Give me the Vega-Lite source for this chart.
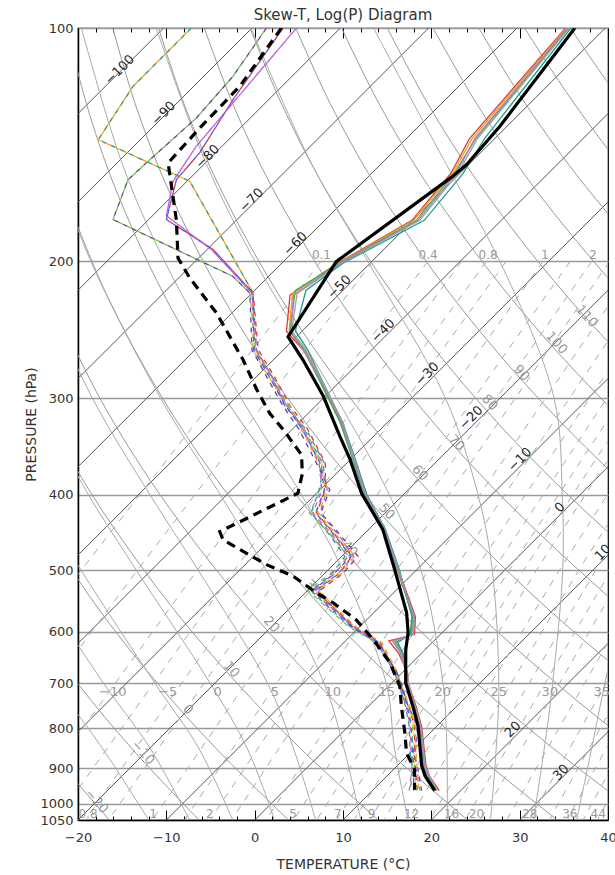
{
"$schema":"https://vega.github.io/schema/vega-lite/v6.json",
"width":530,"height":792,
"autosize":{"type":"none"},
"padding":{"left":78,"top":28,"right":7,"bottom":55},
"background":"white",
"title":{"text":"Skew-T, Log(P) Diagram","fontSize":15,"fontWeight":"normal","color":"#333","offset":-1,"anchor":"middle","frame":"group","font":"DejaVu Sans"},
"config":{"font":"DejaVu Sans","view":{"stroke":"#000","strokeWidth":1.2},"axis":{"labelFont":"DejaVu Sans","titleFont":"DejaVu Sans","labelColor":"#333","titleColor":"#333","titleFontWeight":"normal"}},
"resolve":{"axis":{"x":"independent","y":"independent"}},
"datasets":{
"iso":[{"t":-100,"x":-100,"p":1050},{"t":-100,"x":-10.3,"p":100},{"t":-90,"x":-90,"p":1050},{"t":-90,"x":-0.3,"p":100},{"t":-80,"x":-80,"p":1050},{"t":-80,"x":9.7,"p":100},{"t":-70,"x":-70,"p":1050},{"t":-70,"x":19.7,"p":100},{"t":-60,"x":-60,"p":1050},{"t":-60,"x":29.7,"p":100},{"t":-50,"x":-50,"p":1050},{"t":-50,"x":39.7,"p":100},{"t":-40,"x":-40,"p":1050},{"t":-40,"x":49.7,"p":100},{"t":-30,"x":-30,"p":1050},{"t":-30,"x":59.7,"p":100},{"t":-20,"x":-20,"p":1050},{"t":-20,"x":69.7,"p":100},{"t":-10,"x":-10,"p":1050},{"t":-10,"x":79.7,"p":100},{"t":0,"x":0,"p":1050},{"t":0,"x":89.7,"p":100},{"t":10,"x":10,"p":1050},{"t":10,"x":99.7,"p":100},{"t":20,"x":20,"p":1050},{"t":20,"x":109.7,"p":100},{"t":30,"x":30,"p":1050},{"t":30,"x":119.7,"p":100},{"t":40,"x":40,"p":1050},{"t":40,"x":129.7,"p":100}],
"dry":[{"th":-20,"x":-16.45,"p":1050},{"th":-20,"x":-23.42,"p":850},
{"th":-10,"x":-6.31,"p":1050},{"th":-10,"x":-13.88,"p":850},{"th":-10,"x":-20.03,"p":700},{"th":-10,"x":-26.65,"p":550},
{"th":0,"x":3.83,"p":1050},{"th":0,"x":-4.33,"p":850},{"th":0,"x":-11.0,"p":700},{"th":0,"x":-18.22,"p":550},{"th":0,"x":-26.1,"p":400},
{"th":10,"x":13.97,"p":1050},{"th":10,"x":5.22,"p":850},{"th":10,"x":-1.97,"p":700},{"th":10,"x":-9.79,"p":550},{"th":10,"x":-18.4,"p":400},{"th":10,"x":-24.62,"p":300},
{"th":20,"x":24.11,"p":1050},{"th":20,"x":14.76,"p":850},{"th":20,"x":7.06,"p":700},{"th":20,"x":-1.36,"p":550},{"th":20,"x":-10.7,"p":400},{"th":20,"x":-17.53,"p":300},{"th":20,"x":-23.31,"p":220},
{"th":30,"x":34.25,"p":1050},{"th":30,"x":24.31,"p":850},{"th":30,"x":16.1,"p":700},{"th":30,"x":7.07,"p":550},{"th":30,"x":-3.0,"p":400},{"th":30,"x":-10.44,"p":300},{"th":30,"x":-16.82,"p":220},{"th":30,"x":-21.79,"p":160},
{"th":40,"x":44.39,"p":1050},{"th":40,"x":33.85,"p":850},{"th":40,"x":25.13,"p":700},{"th":40,"x":15.5,"p":550},{"th":40,"x":4.69,"p":400},{"th":40,"x":-3.36,"p":300},{"th":40,"x":-10.33,"p":220},{"th":40,"x":-15.86,"p":160},{"th":40,"x":-19.07,"p":125},{"th":40,"x":-21.24,"p":100},
{"th":50,"x":54.53,"p":1050},{"th":50,"x":43.4,"p":850},{"th":50,"x":34.16,"p":700},{"th":50,"x":23.93,"p":550},{"th":50,"x":12.39,"p":400},{"th":50,"x":3.73,"p":300},{"th":50,"x":-3.84,"p":220},{"th":50,"x":-9.94,"p":160},{"th":50,"x":-13.55,"p":125},{"th":50,"x":-16.06,"p":100},
{"th":60,"x":52.94,"p":850},{"th":60,"x":43.19,"p":700},{"th":60,"x":32.36,"p":550},{"th":60,"x":20.09,"p":400},{"th":60,"x":10.82,"p":300},{"th":60,"x":2.65,"p":220},{"th":60,"x":-4.01,"p":160},{"th":60,"x":-8.03,"p":125},{"th":60,"x":-10.88,"p":100},
{"th":70,"x":62.49,"p":850},{"th":70,"x":52.22,"p":700},{"th":70,"x":40.79,"p":550},{"th":70,"x":27.78,"p":400},{"th":70,"x":17.91,"p":300},{"th":70,"x":9.14,"p":220},{"th":70,"x":1.91,"p":160},{"th":70,"x":-2.51,"p":125},{"th":70,"x":-5.7,"p":100},
{"th":80,"x":61.25,"p":700},{"th":80,"x":49.22,"p":550},{"th":80,"x":35.48,"p":400},{"th":80,"x":25.0,"p":300},{"th":80,"x":15.62,"p":220},{"th":80,"x":7.83,"p":160},{"th":80,"x":3.01,"p":125},{"th":80,"x":-0.52,"p":100},
{"th":90,"x":70.28,"p":700},{"th":90,"x":57.65,"p":550},{"th":90,"x":43.18,"p":400},{"th":90,"x":32.09,"p":300},{"th":90,"x":22.11,"p":220},{"th":90,"x":13.76,"p":160},{"th":90,"x":8.53,"p":125},{"th":90,"x":4.66,"p":100},
{"th":100,"x":66.08,"p":550},{"th":100,"x":50.87,"p":400},{"th":100,"x":39.18,"p":300},{"th":100,"x":28.6,"p":220},{"th":100,"x":19.68,"p":160},{"th":100,"x":14.05,"p":125},{"th":100,"x":9.84,"p":100},
{"th":110,"x":74.51,"p":550},{"th":110,"x":58.57,"p":400},{"th":110,"x":46.27,"p":300},{"th":110,"x":35.09,"p":220},{"th":110,"x":25.61,"p":160},{"th":110,"x":19.57,"p":125},{"th":110,"x":15.02,"p":100},
{"th":120,"x":66.27,"p":400},{"th":120,"x":53.36,"p":300},{"th":120,"x":41.58,"p":220},{"th":120,"x":31.53,"p":160},{"th":120,"x":25.09,"p":125},{"th":120,"x":20.2,"p":100},
{"th":130,"x":60.45,"p":300},{"th":130,"x":48.07,"p":220},{"th":130,"x":37.46,"p":160},{"th":130,"x":30.61,"p":125},{"th":130,"x":25.38,"p":100},
{"th":140,"x":67.54,"p":300},{"th":140,"x":54.56,"p":220},{"th":140,"x":43.38,"p":160},{"th":140,"x":36.14,"p":125},{"th":140,"x":30.56,"p":100},
{"th":150,"x":61.05,"p":220},{"th":150,"x":49.3,"p":160},{"th":150,"x":41.66,"p":125},{"th":150,"x":35.74,"p":100}],
"moist":[{"tw":-15,"x":-12.0,"p":1050},{"tw":-15,"x":-17.2,"p":850},{"tw":-15,"x":-22.6,"p":700},
{"tw":-10,"x":-7.37,"p":1050},{"tw":-10,"x":-11.79,"p":850},{"tw":-10,"x":-17.09,"p":700},{"tw":-10,"x":-25.6,"p":500},
{"tw":-5,"x":-2.5,"p":1050},{"tw":-5,"x":-6.29,"p":850},{"tw":-5,"x":-11.28,"p":700},{"tw":-5,"x":-19.66,"p":500},{"tw":-5,"x":-24.8,"p":400},
{"tw":0,"x":2.25,"p":1050},{"tw":0,"x":-0.82,"p":850},{"tw":0,"x":-5.03,"p":700},{"tw":0,"x":-13.4,"p":500},{"tw":0,"x":-18.8,"p":400},{"tw":0,"x":-24.8,"p":300},
{"tw":5,"x":6.9,"p":1050},{"tw":5,"x":4.41,"p":850},{"tw":5,"x":1.47,"p":700},{"tw":5,"x":-6.4,"p":500},{"tw":5,"x":-11.84,"p":400},{"tw":5,"x":-18.38,"p":300},{"tw":5,"x":-25.5,"p":200},
{"tw":10,"x":12.02,"p":1050},{"tw":10,"x":10.12,"p":850},{"tw":10,"x":7.87,"p":700},{"tw":10,"x":1.3,"p":500},{"tw":10,"x":-3.88,"p":400},{"tw":10,"x":-10.66,"p":300},{"tw":10,"x":-18.54,"p":200},{"tw":10,"x":-22.65,"p":150},
{"tw":15,"x":17.37,"p":1050},{"tw":15,"x":15.83,"p":850},{"tw":15,"x":14.9,"p":700},{"tw":15,"x":9.97,"p":500},{"tw":15,"x":5.32,"p":400},{"tw":15,"x":-1.54,"p":300},{"tw":15,"x":-10.19,"p":200},{"tw":15,"x":-14.96,"p":150},{"tw":15,"x":-19.62,"p":100},
{"tw":20,"x":21.8,"p":1050},{"tw":20,"x":21.76,"p":850},{"tw":20,"x":21.32,"p":700},{"tw":20,"x":18.83,"p":500},{"tw":20,"x":15.25,"p":400},{"tw":20,"x":9.27,"p":300},{"tw":20,"x":0.04,"p":200},{"tw":20,"x":-5.44,"p":150},{"tw":20,"x":-11.15,"p":100},
{"tw":25,"x":26.7,"p":1050},{"tw":25,"x":27.34,"p":850},{"tw":25,"x":27.64,"p":700},{"tw":25,"x":26.9,"p":500},{"tw":25,"x":25.29,"p":400},{"tw":25,"x":21.59,"p":300},{"tw":25,"x":12.82,"p":200},{"tw":25,"x":6.49,"p":150},{"tw":25,"x":-0.41,"p":100},
{"tw":30,"x":31.56,"p":1050},{"tw":30,"x":32.78,"p":850},{"tw":30,"x":33.73,"p":700},{"tw":30,"x":34.87,"p":500},{"tw":30,"x":34.82,"p":400},{"tw":30,"x":33.89,"p":300},{"tw":30,"x":27.76,"p":200},{"tw":30,"x":21.7,"p":150},{"tw":30,"x":13.45,"p":100},
{"tw":35,"x":36.45,"p":1050},{"tw":35,"x":38.14,"p":850},{"tw":35,"x":39.64,"p":700},{"tw":35,"x":42.5,"p":500}],
"mix":[{"w":0.1,"x":-41.11,"p":1050},{"w":0.1,"x":-19.63,"p":500},{"w":0.1,"x":7.5,"p":200},
{"w":0.2,"x":-34.29,"p":1050},{"w":0.2,"x":-13.27,"p":500},{"w":0.2,"x":13.36,"p":200},
{"w":0.4,"x":-27.0,"p":1050},{"w":0.4,"x":-6.49,"p":500},{"w":0.4,"x":19.59,"p":200},
{"w":0.6,"x":-22.49,"p":1050},{"w":0.6,"x":-2.3,"p":500},{"w":0.6,"x":23.42,"p":200},
{"w":0.8,"x":-19.18,"p":1050},{"w":0.8,"x":0.77,"p":500},{"w":0.8,"x":26.23,"p":200},
{"w":1,"x":-16.55,"p":1050},{"w":1,"x":3.21,"p":500},{"w":1,"x":28.46,"p":200},
{"w":1.5,"x":-11.6,"p":1050},{"w":1.5,"x":7.79,"p":500},{"w":1.5,"x":32.64,"p":200},
{"w":2,"x":-7.95,"p":1050},{"w":2,"x":11.16,"p":500},{"w":2,"x":35.71,"p":200},
{"w":2.5,"x":-5.05,"p":1050},{"w":2.5,"x":13.84,"p":500},{"w":2.5,"x":38.14,"p":200},
{"w":3,"x":-2.61,"p":1050},{"w":3,"x":16.08,"p":500},{"w":3,"x":40.18,"p":200},
{"w":4,"x":1.29,"p":1050},{"w":4,"x":19.68,"p":500},{"w":4,"x":43.45,"p":200},
{"w":5,"x":4.42,"p":1050},{"w":5,"x":22.56,"p":500},{"w":5,"x":46.05,"p":200},
{"w":6,"x":7.02,"p":1050},{"w":6,"x":24.96,"p":500},{"w":6,"x":48.23,"p":200},
{"w":7,"x":9.27,"p":1050},{"w":7,"x":27.02,"p":500},{"w":7,"x":50.09,"p":200},
{"w":8,"x":11.25,"p":1050},{"w":8,"x":28.83,"p":500},{"w":8,"x":51.73,"p":200},
{"w":9,"x":13.01,"p":1050},{"w":9,"x":30.45,"p":500},{"w":9,"x":53.19,"p":200},
{"w":10,"x":14.61,"p":1050},{"w":10,"x":31.91,"p":500},{"w":10,"x":54.51,"p":200},
{"w":12,"x":17.41,"p":1050},{"w":12,"x":34.49,"p":500},{"w":12,"x":56.83,"p":200},
{"w":14,"x":19.82,"p":1050},{"w":14,"x":36.69,"p":500},{"w":14,"x":58.82,"p":200},
{"w":16,"x":21.94,"p":1050},{"w":16,"x":38.63,"p":500},{"w":16,"x":60.57,"p":200},
{"w":18,"x":23.83,"p":1050},{"w":18,"x":40.36,"p":500},
{"w":20,"x":25.54,"p":1050},{"w":20,"x":41.92,"p":500},
{"w":24,"x":28.54,"p":1050},{"w":24,"x":44.65,"p":500},
{"w":28,"x":31.1,"p":1050},{"w":28,"x":47.0,"p":500},
{"w":32,"x":33.36,"p":1050},{"w":32,"x":49.05,"p":500},
{"w":36,"x":35.36,"p":1050},{"w":36,"x":50.87,"p":500},
{"w":40,"x":37.17,"p":1050},{"w":40,"x":52.52,"p":500},
{"w":44,"x":38.81,"p":1050},{"w":44,"x":54.01,"p":500}],
"labIso":[{"txt":"−100","x":-15.28,"p":113.2},{"txt":"−90","x":-10.31,"p":128.8},{"txt":"−80","x":-5.33,"p":146.5},{"txt":"−70","x":-0.36,"p":166.7},{"txt":"−60","x":4.61,"p":189.7},{"txt":"−50","x":9.58,"p":215.8},{"txt":"−40","x":14.55,"p":245.6},{"txt":"−30","x":19.52,"p":279.4},{"txt":"−20","x":24.5,"p":318},{"txt":"−10","x":30.02,"p":360.2},{"txt":"0","x":34.55,"p":415.2},{"txt":"10","x":39.43,"p":474.6},{"txt":"20","x":29.23,"p":802.6},{"txt":"30","x":34.67,"p":912}],
"labDry":[{"txt":"−20","x":-17.9,"p":993},{"txt":"−10","x":-12.64,"p":859.4},{"txt":"0","x":-7.54,"p":756.5},{"txt":"10","x":-2.63,"p":671.8},{"txt":"20","x":1.9,"p":587.8},{"txt":"30","x":6.58,"p":526.6},{"txt":"40","x":10.77,"p":469.1},{"txt":"50","x":14.96,"p":420.2},{"txt":"60","x":18.7,"p":374.7},{"txt":"70","x":22.85,"p":342.7},{"txt":"80","x":26.62,"p":304},{"txt":"90","x":30.21,"p":278.5},{"txt":"100","x":34.18,"p":254.7},{"txt":"110","x":37.58,"p":235.4}],
"labMr":[{"txt":"0.8","x":-18.87,"p":1030},{"txt":"1","x":-11.5,"p":1030},{"txt":"2","x":-5.09,"p":1030},{"txt":"5","x":4.35,"p":1030},{"txt":"7","x":9.4,"p":1030},{"txt":"9","x":13.23,"p":1030},{"txt":"12","x":17.76,"p":1030},{"txt":"16","x":22.29,"p":1030},{"txt":"20","x":25.12,"p":1030},{"txt":"28","x":31.15,"p":1030},{"txt":"36","x":35.68,"p":1030},{"txt":"44","x":38.89,"p":1030},{"txt":"0.1","x":7.56,"p":196},{"txt":"0.4","x":19.64,"p":196},{"txt":"0.8","x":26.43,"p":196},{"txt":"1","x":32.85,"p":196},{"txt":"2","x":38.32,"p":196}],
"labMa":[{"txt":"−10","x":-16.07,"p":719},{"txt":"−5","x":-9.84,"p":719},{"txt":"0","x":-4.18,"p":719},{"txt":"5","x":2.28,"p":719},{"txt":"10","x":8.85,"p":719},{"txt":"15","x":14.96,"p":719},{"txt":"20","x":21.3,"p":719},{"txt":"25","x":27.64,"p":719},{"txt":"30","x":33.42,"p":719},{"txt":"35","x":39.3,"p":719}],
"tmean":[{"x":36.25,"p":100},{"x":27.76,"p":133.9},{"x":24.0,"p":150},{"x":22.29,"p":155.7},{"x":9.26,"p":200},{"x":3.78,"p":250},{"x":5.48,"p":268},{"x":7.75,"p":298},{"x":9.64,"p":336},{"x":10.8,"p":360},{"x":12.1,"p":398},{"x":14.5,"p":443},{"x":15.85,"p":499},{"x":17.2,"p":567},{"x":17.37,"p":602},{"x":17.1,"p":634},{"x":17.1,"p":699},{"x":17.94,"p":751},{"x":18.5,"p":795},{"x":18.9,"p":893},{"x":19.3,"p":922},{"x":20.4,"p":962}],
"dmean":[{"x":3.03,"p":100},{"x":-1.69,"p":118.9},{"x":-6.22,"p":134.6},{"x":-9.8,"p":149.3},{"x":-9.24,"p":165},{"x":-8.86,"p":177},{"x":-8.68,"p":198},{"x":-7.35,"p":210},{"x":-4.33,"p":233},{"x":-1.3,"p":268},{"x":0.2,"p":292},{"x":1.7,"p":314},{"x":3.2,"p":329},{"x":5.3,"p":355},{"x":5.4,"p":375},{"x":4.9,"p":398},{"x":-3.95,"p":446},{"x":-3.58,"p":457},{"x":1.34,"p":492},{"x":4.35,"p":509},{"x":7.0,"p":535},{"x":8.88,"p":551},{"x":11.53,"p":580},{"x":13.4,"p":614},{"x":15.3,"p":658},{"x":16.43,"p":706},{"x":16.62,"p":751},{"x":17.0,"p":810},{"x":17.19,"p":860},{"x":18.1,"p":904},{"x":18.1,"p":960}],
"tens":[
{"s":"tr","x":35.2,"p":100},{"s":"tr","x":24.3,"p":139},{"s":"tr","x":22.2,"p":154},{"s":"tr","x":17.8,"p":177},{"s":"tr","x":9.4,"p":201},{"s":"tr","x":4.0,"p":221},{"s":"tr","x":3.6,"p":246},{"s":"tr","x":5.6,"p":261},{"s":"tr","x":7.9,"p":292},{"s":"tr","x":9.8,"p":323},{"s":"tr","x":11.3,"p":360},{"s":"tr","x":12.7,"p":400},{"s":"tr","x":14.7,"p":443},{"s":"tr","x":16.3,"p":500},{"s":"tr","x":18.2,"p":574},{"s":"tr","x":18.1,"p":605},{"s":"tr","x":15.2,"p":617},{"s":"tr","x":16.3,"p":640},{"s":"tr","x":17.3,"p":678},{"s":"tr","x":17.4,"p":700},{"s":"tr","x":18.3,"p":751},{"s":"tr","x":18.9,"p":795},{"s":"tr","x":19.4,"p":893},{"s":"tr","x":19.8,"p":922},{"s":"tr","x":20.9,"p":962},
{"s":"to","x":35.3,"p":100},{"s":"to","x":24.6,"p":139},{"s":"to","x":22.4,"p":154},{"s":"to","x":18.0,"p":177},{"s":"to","x":9.5,"p":201},{"s":"to","x":4.3,"p":220},{"s":"to","x":3.9,"p":246},{"s":"to","x":5.7,"p":260},{"s":"to","x":8.0,"p":292},{"s":"to","x":9.9,"p":323},{"s":"to","x":11.2,"p":360},{"s":"to","x":12.5,"p":400},{"s":"to","x":14.6,"p":443},{"s":"to","x":16.1,"p":500},{"s":"to","x":18.0,"p":574},{"s":"to","x":17.8,"p":605},{"s":"to","x":15.8,"p":618},{"s":"to","x":16.6,"p":640},{"s":"to","x":17.1,"p":678},{"s":"to","x":17.2,"p":700},{"s":"to","x":18.0,"p":751},{"s":"to","x":18.6,"p":795},{"s":"to","x":19.0,"p":893},{"s":"to","x":19.4,"p":922},{"s":"to","x":20.3,"p":962},
{"s":"tg","x":35.5,"p":100},{"s":"tg","x":25.0,"p":139},{"s":"tg","x":22.6,"p":154},{"s":"tg","x":18.3,"p":177},{"s":"tg","x":9.6,"p":201},{"s":"tg","x":4.6,"p":218},{"s":"tg","x":4.0,"p":246},{"s":"tg","x":5.6,"p":260},{"s":"tg","x":7.8,"p":292},{"s":"tg","x":9.7,"p":323},{"s":"tg","x":11.1,"p":360},{"s":"tg","x":12.4,"p":400},{"s":"tg","x":14.6,"p":443},{"s":"tg","x":16.2,"p":500},{"s":"tg","x":17.9,"p":574},{"s":"tg","x":17.7,"p":605},{"s":"tg","x":16.0,"p":619},{"s":"tg","x":16.7,"p":640},{"s":"tg","x":17.2,"p":678},{"s":"tg","x":17.3,"p":700},{"s":"tg","x":18.2,"p":751},{"s":"tg","x":18.8,"p":795},{"s":"tg","x":19.3,"p":893},{"s":"tg","x":19.7,"p":922},{"s":"tg","x":20.6,"p":962},
{"s":"tt","x":35.8,"p":100},{"s":"tt","x":26.0,"p":139},{"s":"tt","x":23.6,"p":154},{"s":"tt","x":19.2,"p":177},{"s":"tt","x":10.0,"p":201},{"s":"tt","x":5.8,"p":218},{"s":"tt","x":4.6,"p":246},{"s":"tt","x":6.0,"p":260},{"s":"tt","x":8.1,"p":292},{"s":"tt","x":10.0,"p":323},{"s":"tt","x":11.4,"p":360},{"s":"tt","x":12.7,"p":400},{"s":"tt","x":14.8,"p":443},{"s":"tt","x":16.4,"p":500},{"s":"tt","x":17.8,"p":574},{"s":"tt","x":17.6,"p":605},{"s":"tt","x":16.2,"p":620},{"s":"tt","x":16.8,"p":640},{"s":"tt","x":17.2,"p":678},{"s":"tt","x":17.3,"p":700},{"s":"tt","x":18.1,"p":751},{"s":"tt","x":18.6,"p":795},{"s":"tt","x":19.1,"p":893},{"s":"tt","x":19.5,"p":922},{"s":"tt","x":20.2,"p":962},
{"s":"tgy","x":35.6,"p":100},{"s":"tgy","x":25.2,"p":139},{"s":"tgy","x":23.0,"p":154},{"s":"tgy","x":18.7,"p":177},{"s":"tgy","x":9.8,"p":201},{"s":"tgy","x":4.8,"p":220},{"s":"tgy","x":4.2,"p":246},{"s":"tgy","x":5.8,"p":260},{"s":"tgy","x":8.1,"p":292},{"s":"tgy","x":10.0,"p":323},{"s":"tgy","x":11.3,"p":360},{"s":"tgy","x":12.6,"p":400},{"s":"tgy","x":14.7,"p":443},{"s":"tgy","x":16.3,"p":500},{"s":"tgy","x":18.0,"p":574},{"s":"tgy","x":17.9,"p":605},{"s":"tgy","x":15.9,"p":618},{"s":"tgy","x":16.6,"p":640},{"s":"tgy","x":17.3,"p":678},{"s":"tgy","x":17.4,"p":700},{"s":"tgy","x":18.2,"p":751},{"s":"tgy","x":18.8,"p":795},{"s":"tgy","x":19.3,"p":893},{"s":"tgy","x":19.8,"p":922},{"s":"tgy","x":20.7,"p":962},
{"s":"tl","x":35.4,"p":100},{"s":"tl","x":24.9,"p":139},{"s":"tl","x":22.8,"p":154},{"s":"tl","x":18.5,"p":177},{"s":"tl","x":9.7,"p":201},{"s":"tl","x":4.4,"p":221},{"s":"tl","x":4.1,"p":247},{"s":"tl","x":5.7,"p":262},{"s":"tl","x":8.0,"p":292},{"s":"tl","x":9.9,"p":323},{"s":"tl","x":11.2,"p":360},{"s":"tl","x":12.5,"p":400},{"s":"tl","x":14.6,"p":443},{"s":"tl","x":16.2,"p":500},{"s":"tl","x":18.1,"p":574},{"s":"tl","x":18.0,"p":605},{"s":"tl","x":15.6,"p":617},{"s":"tl","x":16.5,"p":640},{"s":"tl","x":17.2,"p":678},{"s":"tl","x":17.3,"p":700},{"s":"tl","x":18.1,"p":751},{"s":"tl","x":18.7,"p":795},{"s":"tl","x":19.2,"p":893},{"s":"tl","x":19.6,"p":922},{"s":"tl","x":20.5,"p":962}],
"dens":[
{"s":"dY","x":-7.16,"p":100},{"s":"dY","x":-13.77,"p":118.9},{"s":"dY","x":-17.7,"p":139.3},{"s":"dY","x":-7.35,"p":157.6},{"s":"dY","x":-0.18,"p":219.6},{"s":"dY","x":0.1,"p":260},{"s":"dY","x":1.6,"p":281},{"s":"dY","x":3.5,"p":307},{"s":"dY","x":5.4,"p":329},{"s":"dY","x":7.6,"p":364},{"s":"dY","x":8.0,"p":394},{"s":"dY","x":7.0,"p":422},{"s":"dY","x":9.3,"p":452},{"s":"dY","x":11.0,"p":480},{"s":"dY","x":9.4,"p":505},{"s":"dY","x":6.9,"p":531},{"s":"dY","x":8.2,"p":551},{"s":"dY","x":11.2,"p":591},{"s":"dY","x":14.2,"p":620},{"s":"dY","x":16.1,"p":678},{"s":"dY","x":16.4,"p":700},{"s":"dY","x":17.4,"p":751},{"s":"dY","x":18.0,"p":795},{"s":"dY","x":18.0,"p":860},{"s":"dY","x":18.1,"p":904},{"s":"dY","x":18.2,"p":962},
{"s":"dA1","x":-7.16,"p":100},{"s":"dA1","x":-13.77,"p":118.9},{"s":"dA1","x":-17.7,"p":139.3},{"s":"dA1","x":-7.35,"p":157.6},{"s":"dA1","x":-0.18,"p":219.6},{"s":"dA1","x":0.2,"p":260},{"s":"dA1","x":1.9,"p":281},{"s":"dA1","x":3.4,"p":307},{"s":"dA1","x":5.8,"p":329},{"s":"dA1","x":7.9,"p":364},{"s":"dA1","x":7.3,"p":394},{"s":"dA1","x":6.4,"p":422},{"s":"dA1","x":8.6,"p":452},{"s":"dA1","x":10.2,"p":480},{"s":"dA1","x":8.8,"p":505},{"s":"dA1","x":6.4,"p":531},{"s":"dA1","x":7.8,"p":551},{"s":"dA1","x":10.8,"p":591},{"s":"dA1","x":13.8,"p":620},{"s":"dA1","x":15.8,"p":678},{"s":"dA1","x":16.3,"p":700},{"s":"dA1","x":17.1,"p":751},{"s":"dA1","x":17.5,"p":795},{"s":"dA1","x":17.6,"p":860},{"s":"dA1","x":17.9,"p":904},{"s":"dA1","x":17.6,"p":962},
{"s":"dA2","x":-7.16,"p":100},{"s":"dA2","x":-13.77,"p":118.9},{"s":"dA2","x":-17.7,"p":139.3},{"s":"dA2","x":-7.35,"p":157.6},{"s":"dA2","x":-0.18,"p":219.6},{"s":"dA2","x":-0.2,"p":260},{"s":"dA2","x":1.5,"p":281},{"s":"dA2","x":3.9,"p":307},{"s":"dA2","x":5.3,"p":329},{"s":"dA2","x":7.2,"p":364},{"s":"dA2","x":8.3,"p":394},{"s":"dA2","x":7.2,"p":422},{"s":"dA2","x":9.4,"p":452},{"s":"dA2","x":11.4,"p":480},{"s":"dA2","x":9.8,"p":505},{"s":"dA2","x":7.2,"p":531},{"s":"dA2","x":8.6,"p":551},{"s":"dA2","x":11.4,"p":591},{"s":"dA2","x":14.4,"p":620},{"s":"dA2","x":16.2,"p":678},{"s":"dA2","x":16.5,"p":700},{"s":"dA2","x":17.6,"p":751},{"s":"dA2","x":18.2,"p":795},{"s":"dA2","x":18.3,"p":860},{"s":"dA2","x":18.4,"p":904},{"s":"dA2","x":18.6,"p":962},
{"s":"dB1","x":1.34,"p":100},{"s":"dB1","x":-2.45,"p":115.4},{"s":"dB1","x":-6.59,"p":130.6},{"s":"dB1","x":-11.88,"p":147.9},{"s":"dB1","x":-14.34,"p":156.9},{"s":"dB1","x":-16.04,"p":176.6},{"s":"dB1","x":-2.45,"p":209.1},{"s":"dB1","x":-0.55,"p":219.6},{"s":"dB1","x":-0.3,"p":260},{"s":"dB1","x":1.3,"p":281},{"s":"dB1","x":3.2,"p":307},{"s":"dB1","x":5.0,"p":329},{"s":"dB1","x":7.0,"p":364},{"s":"dB1","x":8.5,"p":394},{"s":"dB1","x":7.5,"p":422},{"s":"dB1","x":9.8,"p":452},{"s":"dB1","x":11.7,"p":480},{"s":"dB1","x":10.0,"p":505},{"s":"dB1","x":7.4,"p":531},{"s":"dB1","x":8.4,"p":551},{"s":"dB1","x":11.0,"p":591},{"s":"dB1","x":14.0,"p":620},{"s":"dB1","x":16.1,"p":678},{"s":"dB1","x":16.6,"p":700},{"s":"dB1","x":17.4,"p":751},{"s":"dB1","x":18.6,"p":795},{"s":"dB1","x":18.0,"p":860},{"s":"dB1","x":18.5,"p":904},{"s":"dB1","x":18.9,"p":962},
{"s":"dB2","x":1.34,"p":100},{"s":"dB2","x":-2.45,"p":115.4},{"s":"dB2","x":-6.59,"p":130.6},{"s":"dB2","x":-11.88,"p":147.9},{"s":"dB2","x":-14.34,"p":156.9},{"s":"dB2","x":-16.04,"p":176.6},{"s":"dB2","x":-2.45,"p":209.1},{"s":"dB2","x":-0.55,"p":219.6},{"s":"dB2","x":0.1,"p":260},{"s":"dB2","x":2.0,"p":281},{"s":"dB2","x":3.8,"p":307},{"s":"dB2","x":5.6,"p":329},{"s":"dB2","x":7.6,"p":364},{"s":"dB2","x":7.5,"p":394},{"s":"dB2","x":6.2,"p":422},{"s":"dB2","x":8.8,"p":452},{"s":"dB2","x":10.5,"p":480},{"s":"dB2","x":8.6,"p":505},{"s":"dB2","x":6.0,"p":531},{"s":"dB2","x":7.6,"p":551},{"s":"dB2","x":10.6,"p":591},{"s":"dB2","x":13.7,"p":620},{"s":"dB2","x":15.9,"p":678},{"s":"dB2","x":16.2,"p":700},{"s":"dB2","x":17.2,"p":751},{"s":"dB2","x":17.9,"p":795},{"s":"dB2","x":17.8,"p":860},{"s":"dB2","x":18.1,"p":904},{"s":"dB2","x":18.3,"p":962},
{"s":"dC1","x":3.22,"p":100},{"s":"dC1","x":-2.45,"p":123.7},{"s":"dC1","x":-6.22,"p":144.8},{"s":"dC1","x":-8.86,"p":156.9},{"s":"dC1","x":-9.99,"p":176.6},{"s":"dC1","x":-4.71,"p":193},{"s":"dC1","x":-0.18,"p":219.6},{"s":"dC1","x":0.4,"p":260},{"s":"dC1","x":2.2,"p":281},{"s":"dC1","x":4.0,"p":307},{"s":"dC1","x":6.0,"p":329},{"s":"dC1","x":8.0,"p":364},{"s":"dC1","x":8.0,"p":394},{"s":"dC1","x":7.0,"p":422},{"s":"dC1","x":9.2,"p":452},{"s":"dC1","x":11.0,"p":480},{"s":"dC1","x":9.6,"p":505},{"s":"dC1","x":7.0,"p":531},{"s":"dC1","x":8.3,"p":551},{"s":"dC1","x":11.3,"p":591},{"s":"dC1","x":14.2,"p":620},{"s":"dC1","x":16.0,"p":678},{"s":"dC1","x":16.4,"p":700},{"s":"dC1","x":17.5,"p":751},{"s":"dC1","x":18.1,"p":795},{"s":"dC1","x":18.1,"p":860},{"s":"dC1","x":18.2,"p":904},{"s":"dC1","x":18.4,"p":962},
{"s":"dC2","x":3.22,"p":100},{"s":"dC2","x":-2.45,"p":123.7},{"s":"dC2","x":-6.22,"p":144.8},{"s":"dC2","x":-8.86,"p":156.9},{"s":"dC2","x":-9.99,"p":176.6},{"s":"dC2","x":-4.71,"p":193},{"s":"dC2","x":-0.18,"p":219.6},{"s":"dC2","x":-0.1,"p":260},{"s":"dC2","x":1.6,"p":281},{"s":"dC2","x":3.5,"p":307},{"s":"dC2","x":5.4,"p":329},{"s":"dC2","x":7.4,"p":364},{"s":"dC2","x":7.9,"p":394},{"s":"dC2","x":6.9,"p":422},{"s":"dC2","x":9.1,"p":452},{"s":"dC2","x":10.9,"p":480},{"s":"dC2","x":9.0,"p":505},{"s":"dC2","x":6.6,"p":531},{"s":"dC2","x":8.0,"p":551},{"s":"dC2","x":11.0,"p":591},{"s":"dC2","x":14.0,"p":620},{"s":"dC2","x":16.1,"p":678},{"s":"dC2","x":16.5,"p":700},{"s":"dC2","x":17.3,"p":751},{"s":"dC2","x":17.7,"p":795},{"s":"dC2","x":17.9,"p":860},{"s":"dC2","x":18.0,"p":904},{"s":"dC2","x":18.0,"p":962},
{"s":"dD1","x":4.73,"p":100},{"s":"dD1","x":-6.59,"p":142},{"s":"dD1","x":-9.24,"p":157.6},{"s":"dD1","x":-10.0,"p":174.6},{"s":"dD1","x":-4.9,"p":193},{"s":"dD1","x":-0.3,"p":219.6},{"s":"dD1","x":0.0,"p":260},{"s":"dD1","x":1.8,"p":281},{"s":"dD1","x":3.7,"p":307},{"s":"dD1","x":5.6,"p":329},{"s":"dD1","x":7.7,"p":364},{"s":"dD1","x":8.2,"p":394},{"s":"dD1","x":7.4,"p":422},{"s":"dD1","x":9.6,"p":452},{"s":"dD1","x":11.2,"p":480},{"s":"dD1","x":9.5,"p":505},{"s":"dD1","x":6.9,"p":531},{"s":"dD1","x":8.2,"p":551},{"s":"dD1","x":11.2,"p":591},{"s":"dD1","x":14.1,"p":620},{"s":"dD1","x":16.0,"p":678},{"s":"dD1","x":16.4,"p":700},{"s":"dD1","x":17.4,"p":751},{"s":"dD1","x":18.4,"p":795},{"s":"dD1","x":18.2,"p":860},{"s":"dD1","x":18.3,"p":904},{"s":"dD1","x":18.7,"p":962},
{"s":"dD2","x":4.73,"p":100},{"s":"dD2","x":-6.59,"p":142},{"s":"dD2","x":-9.24,"p":157.6},{"s":"dD2","x":-10.0,"p":174.6},{"s":"dD2","x":-4.9,"p":193},{"s":"dD2","x":-0.3,"p":219.6},{"s":"dD2","x":0.2,"p":260},{"s":"dD2","x":1.9,"p":281},{"s":"dD2","x":3.6,"p":307},{"s":"dD2","x":5.5,"p":329},{"s":"dD2","x":7.3,"p":364},{"s":"dD2","x":7.6,"p":394},{"s":"dD2","x":6.6,"p":422},{"s":"dD2","x":8.9,"p":452},{"s":"dD2","x":10.6,"p":480},{"s":"dD2","x":9.1,"p":505},{"s":"dD2","x":6.7,"p":531},{"s":"dD2","x":8.0,"p":551},{"s":"dD2","x":11.1,"p":591},{"s":"dD2","x":14.0,"p":620},{"s":"dD2","x":15.9,"p":678},{"s":"dD2","x":16.3,"p":700},{"s":"dD2","x":17.2,"p":751},{"s":"dD2","x":17.6,"p":795},{"s":"dD2","x":17.7,"p":860},{"s":"dD2","x":17.8,"p":904},{"s":"dD2","x":17.5,"p":962}]
},
"layer":[
{"data":{"name":"iso"},"mark":{"type":"line","clip":true,"color":"#555","strokeWidth":1},
 "encoding":{
  "x":{"field":"x","type":"quantitative","scale":{"domain":[-20,40],"nice":false,"zero":false},
   "axis":{"orient":"bottom","values":[-20,-18,-16,-14,-12,-10,-8,-6,-4,-2,0,2,4,6,8,10,12,14,16,18,20,22,24,26,28,30,32,34,36,38,40],"labelExpr":"datum.value % 10 === 0 ? datum.label : ''","tickSize":{"condition":{"test":"datum.value % 10 === 0","value":-10},"value":-4},"tickColor":"#000","tickWidth":1,"domainColor":"#000","domainWidth":1.5,"labelFontSize":13,"labelPadding":21,"labelFlush":false,"labelOverlap":false,"grid":false,"title":"TEMPERATURE (°C)","titleFontSize":14,"titlePadding":7}},
  "y":{"field":"p","type":"quantitative","scale":{"type":"log","domain":[100,1050],"reverse":true,"nice":false},
   "axis":{"orient":"left","values":[100,200,300,400,500,600,700,800,900,1000,1050],"labelExpr":"'' + datum.value","grid":true,"gridColor":"#999","gridWidth":1.3,"tickSize":0,"labelPadding":5,"labelFontSize":13,"labelOverlap":false,"domainColor":"#000","domainWidth":1.5,"title":"PRESSURE (hPa)","titleFontSize":14,"titlePadding":1}},
  "detail":{"field":"t"},"order":{"field":"p"}}},
{"data":{"name":"dry"},"mark":{"type":"line","clip":true,"color":"#999","strokeWidth":1,"interpolate":"catmull-rom"},
 "encoding":{"x":{"field":"x","type":"quantitative","scale":{"domain":[-20,40],"nice":false,"zero":false},"axis":null},"y":{"field":"p","type":"quantitative","scale":{"type":"log","domain":[100,1050],"reverse":true,"nice":false},"axis":null},"detail":{"field":"th"},"order":{"field":"p"}}},
{"data":{"name":"moist"},"mark":{"type":"line","clip":true,"color":"#aaa","strokeWidth":1,"interpolate":"catmull-rom"},
 "encoding":{"x":{"field":"x","type":"quantitative","scale":{"domain":[-20,40],"nice":false,"zero":false},"axis":null},"y":{"field":"p","type":"quantitative","scale":{"type":"log","domain":[100,1050],"reverse":true,"nice":false},"axis":null},"detail":{"field":"tw"},"order":{"field":"p"}}},
{"data":{"name":"mix"},"mark":{"type":"line","clip":true,"color":"#aaa","strokeWidth":1,"strokeDash":[7,7]},
 "encoding":{"x":{"field":"x","type":"quantitative","scale":{"domain":[-20,40],"nice":false,"zero":false},"axis":null},"y":{"field":"p","type":"quantitative","scale":{"type":"log","domain":[100,1050],"reverse":true,"nice":false},"axis":null},"detail":{"field":"w"},"order":{"field":"p"}}},
{"data":{"name":"labIso"},"mark":{"type":"text","clip":true,"angle":315,"fontSize":13,"color":"#222","align":"center","baseline":"middle"},
 "encoding":{"x":{"field":"x","type":"quantitative","scale":{"domain":[-20,40],"nice":false,"zero":false},
   "axis":{"orient":"top","values":[-20,-18,-16,-14,-12,-10,-8,-6,-4,-2,0,2,4,6,8,10,12,14,16,18,20,22,24,26,28,30,32,34,36,38,40],"labels":false,"title":null,"domain":false,"grid":false,"tickColor":"#000","tickWidth":1,"tickSize":{"condition":{"test":"datum.value % 10 === 0","value":-10},"value":-4}}},
  "y":{"field":"p","type":"quantitative","scale":{"type":"log","domain":[100,1050],"reverse":true,"nice":false},"axis":null},"text":{"field":"txt"}}},
{"data":{"name":"labDry"},"mark":{"type":"text","angle":48,"fontSize":13,"color":"#999","align":"center","baseline":"middle"},
 "encoding":{"x":{"field":"x","type":"quantitative","scale":{"domain":[-20,40],"nice":false,"zero":false},"axis":null},"y":{"field":"p","type":"quantitative","scale":{"type":"log","domain":[100,1050],"reverse":true,"nice":false},"axis":null},"text":{"field":"txt"}}},
{"data":{"name":"labMr"},"mark":{"type":"text","fontSize":12,"color":"#999","align":"center","baseline":"middle"},
 "encoding":{"x":{"field":"x","type":"quantitative","scale":{"domain":[-20,40],"nice":false,"zero":false},"axis":null},"y":{"field":"p","type":"quantitative","scale":{"type":"log","domain":[100,1050],"reverse":true,"nice":false},"axis":null},"text":{"field":"txt"}}},
{"data":{"name":"labMa"},"mark":{"type":"text","fontSize":13,"color":"#999","align":"center","baseline":"middle"},
 "encoding":{"x":{"field":"x","type":"quantitative","scale":{"domain":[-20,40],"nice":false,"zero":false},"axis":null},"y":{"field":"p","type":"quantitative","scale":{"type":"log","domain":[100,1050],"reverse":true,"nice":false},"axis":null},"text":{"field":"txt"}}},
{"data":{"name":"tens"},"mark":{"type":"line","clip":true,"strokeWidth":1.3},
 "encoding":{"x":{"field":"x","type":"quantitative","scale":{"domain":[-20,40],"nice":false,"zero":false},"axis":null},"y":{"field":"p","type":"quantitative","scale":{"type":"log","domain":[100,1050],"reverse":true,"nice":false},"axis":null},"order":{"field":"p"},
  "color":{"field":"s","type":"nominal","legend":null,"scale":{"domain":["tr","to","tg","tt","tgy","tl","dY","dA1","dA2","dB1","dB2","dC1","dC2","dD1","dD2"],"range":["#e53a2a","#f39c1a","#3cb44b","#1f9e89","#a0a0a0","#9d86c8","#f0e130","#2a9d8f","#f5a623","#6a3d9a","#66cc44","#e53228","#3a5ee8","#8a6cf0","#e04fd8"]}}}},
{"data":{"name":"dens"},"transform":[{"filter":{"field":"s","oneOf":["dY","dA1","dB1","dC1","dD1"]}}],"mark":{"type":"line","clip":true,"strokeWidth":1.3,"strokeDash":[5,5]},
 "encoding":{"x":{"field":"x","type":"quantitative","scale":{"domain":[-20,40],"nice":false,"zero":false},"axis":null},"y":{"field":"p","type":"quantitative","scale":{"type":"log","domain":[100,1050],"reverse":true,"nice":false},"axis":null},"order":{"field":"p"},
  "color":{"field":"s","type":"nominal","legend":null,"scale":{"domain":["tr","to","tg","tt","tgy","tl","dY","dA1","dA2","dB1","dB2","dC1","dC2","dD1","dD2"],"range":["#e53a2a","#f39c1a","#3cb44b","#1f9e89","#a0a0a0","#9d86c8","#f0e130","#2a9d8f","#f5a623","#6a3d9a","#66cc44","#e53228","#3a5ee8","#8a6cf0","#e04fd8"]}}}},
{"data":{"name":"dens"},"transform":[{"filter":{"field":"s","oneOf":["dA2","dB2","dC2","dD2"]}}],"mark":{"type":"line","clip":true,"strokeWidth":1.3,"strokeDash":[5,5],"strokeDashOffset":5},
 "encoding":{"x":{"field":"x","type":"quantitative","scale":{"domain":[-20,40],"nice":false,"zero":false},"axis":null},"y":{"field":"p","type":"quantitative","scale":{"type":"log","domain":[100,1050],"reverse":true,"nice":false},"axis":null},"order":{"field":"p"},
  "color":{"field":"s","type":"nominal","legend":null,"scale":{"domain":["tr","to","tg","tt","tgy","tl","dY","dA1","dA2","dB1","dB2","dC1","dC2","dD1","dD2"],"range":["#e53a2a","#f39c1a","#3cb44b","#1f9e89","#a0a0a0","#9d86c8","#f0e130","#2a9d8f","#f5a623","#6a3d9a","#66cc44","#e53228","#3a5ee8","#8a6cf0","#e04fd8"]}}}},
{"data":{"name":"dmean"},"mark":{"type":"line","clip":true,"color":"#000","strokeWidth":3.2,"strokeDash":[9,6]},
 "encoding":{"x":{"field":"x","type":"quantitative","scale":{"domain":[-20,40],"nice":false,"zero":false},"axis":null},"y":{"field":"p","type":"quantitative","scale":{"type":"log","domain":[100,1050],"reverse":true,"nice":false},"axis":null},"order":{"field":"p"}}},
{"data":{"name":"tmean"},"mark":{"type":"line","clip":true,"color":"#000","strokeWidth":3.2},
 "encoding":{"x":{"field":"x","type":"quantitative","scale":{"domain":[-20,40],"nice":false,"zero":false},"axis":null},"y":{"field":"p","type":"quantitative","scale":{"type":"log","domain":[100,1050],"reverse":true,"nice":false},"axis":null},"order":{"field":"p"}}}
]
}
